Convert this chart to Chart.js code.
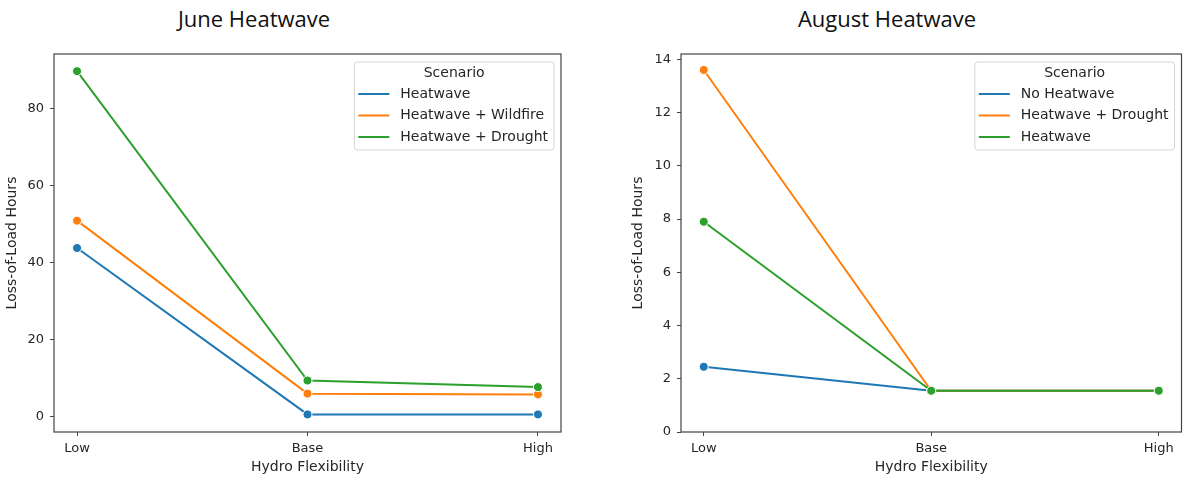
<!DOCTYPE html>
<html>
<head>
<meta charset="utf-8">
<script src="https://cdn.jsdelivr.net/npm/chart.js@4.4.1/dist/chart.umd.min.js"></script>
<style>
  html, body { margin: 0; padding: 0; background: #fff; }
  #wrap { position: relative; width: 1187px; height: 483px; overflow: hidden; }
  canvas { position: absolute; top: 0; }
  .title { position: absolute; font-family: 'Open Sans', sans-serif; font-size: 22px; color: #111; transform: translateX(-50%); white-space: nowrap; line-height: 1; }
</style>
</head>
<body>
<div id="wrap">
  <div class="title" style="left:254px; top:7px">June Heatwave</div>
  <div class="title" style="left:887px; top:7px">August Heatwave</div>
  <canvas id="juneChart" width="600" height="483" style="left:0"></canvas>
  <canvas id="augChart" width="587" height="483" style="left:600px"></canvas>
</div>
<script>
const categories = ['Low', 'Base', 'High'];

// June panel
const juneLabels = ['Heatwave', 'Heatwave + Wildfire', 'Heatwave + Drought'];
const juneHeatwave = [43.7, 0.5, 0.5];
const juneWildfire = [50.8, 5.9, 5.7];
const juneDrought = [89.6, 9.3, 7.6];
const juneTicks = [0, 20, 40, 60, 80];

// August panel
const augLabels = ['No Heatwave', 'Heatwave + Drought', 'Heatwave'];
const augNoHeatwave = [2.45, 1.55, 1.55];
const augDrought = [13.6, 1.55, 1.55];
const augHeatwave = [7.9, 1.55, 1.55];
const augTicks = [0, 2, 4, 6, 8, 10, 12, 14];

const colors = ['#1f77b4', '#ff7f0e', '#2ca02c'];
const textColor = '#262626';
const axisColor = '#444';
const tickFont = { family: 'DejaVu Sans', size: 13 };
const labelFont = { family: 'DejaVu Sans', size: 14 };

function makeDatasets(labels, series) {
    return series.map((values, i) => ({
        label: labels[i],
        data: values.map((v, j) => ({ x: j, y: v })),
        borderColor: colors[i],
        backgroundColor: colors[i],
        pointBackgroundColor: colors[i],
        pointBorderColor: '#fff',
        pointBorderWidth: 1,
        pointRadius: 4.5,
        borderWidth: 2,
        tension: 0,
        order: series.length - i   // later series on top, like matplotlib
    }));
}

// axes box on all four sides
const framePlugin = {
    id: 'frame',
    afterDatasetsDraw(chart) {
        const { ctx, chartArea: a } = chart;
        ctx.save();
        ctx.strokeStyle = axisColor;
        ctx.lineWidth = 1.2;
        ctx.strokeRect(a.left, a.top, a.right - a.left, a.bottom - a.top);
        ctx.restore();
    }
};

// matplotlib style legend box with a title, upper right inside the plot
const boxLegend = {
    id: 'boxLegend',
    afterDraw(chart) {
        const { ctx, chartArea: a } = chart;
        const items = chart.data.datasets;
        ctx.save();
        ctx.font = '14px "DejaVu Sans"';
        const textW = Math.max(...items.map(d => ctx.measureText(d.label).width));
        const w = 4 + 31 + 11 + textW + 6;
        const h = 88;
        const x = a.right - 7 - w;
        const y = a.top + 8;

        ctx.beginPath();
        ctx.roundRect(x, y, w, h, 3);
        ctx.fillStyle = 'rgba(255,255,255,0.8)';
        ctx.fill();
        ctx.strokeStyle = '#d4d4d4';
        ctx.lineWidth = 1;
        ctx.stroke();

        ctx.fillStyle = textColor;
        ctx.textBaseline = 'middle';
        ctx.textAlign = 'center';
        ctx.fillText('Scenario', x + w / 2, y + 11);

        ctx.textAlign = 'left';
        items.forEach((d, i) => {
            const yy = y + 32 + i * 21.5;
            ctx.strokeStyle = d.borderColor;
            ctx.lineWidth = 2;
            ctx.beginPath();
            ctx.moveTo(x + 4, yy);
            ctx.lineTo(x + 35, yy);
            ctx.stroke();
            ctx.fillStyle = textColor;
            ctx.fillText(d.label, x + 46, yy);
        });
        ctx.restore();
    }
};

function makeChart(id, labels, series, yMin, yMax, yTicks, padLeft, padRight, yWidth) {
    return new Chart(document.getElementById(id), {
        type: 'line',
        data: { datasets: makeDatasets(labels, series) },
        options: {
            responsive: false,
            animation: false,
            devicePixelRatio: 1,
            layout: { padding: { top: 54, right: padRight, bottom: 0, left: padLeft } },
            plugins: {
                legend: { display: false },
                tooltip: { enabled: false }
            },
            scales: {
                x: {
                    type: 'linear',
                    min: -0.1,
                    max: 2.1,
                    afterBuildTicks: s => { s.ticks = categories.map((c, i) => ({ value: i })); },
                    ticks: {
                        callback: v => categories[v],
                        font: tickFont,
                        color: textColor,
                        padding: 5,
                        maxRotation: 0,
                        autoSkip: false
                    },
                    grid: { drawOnChartArea: false, drawTicks: true, tickLength: 4, tickColor: axisColor, tickWidth: 1 },
                    border: { display: false },
                    title: { display: true, text: 'Hydro Flexibility', font: labelFont, color: textColor, padding: { top: 0, bottom: 7 } },
                    afterFit: s => { s.height = 51; }
                },
                y: {
                    type: 'linear',
                    min: yMin,
                    max: yMax,
                    afterBuildTicks: s => { s.ticks = yTicks.map(v => ({ value: v })); },
                    ticks: { font: tickFont, color: textColor, padding: 6 },
                    grid: { drawOnChartArea: false, drawTicks: true, tickLength: 4, tickColor: axisColor, tickWidth: 1 },
                    border: { display: false },
                    title: { display: true, text: 'Loss-of-Load Hours', font: labelFont, color: textColor, padding: { top: 4, bottom: 0 } },
                    afterFit: s => { s.width = yWidth; }
                }
            }
        },
        plugins: [framePlugin, boxLegend]
    });
}

makeChart('juneChart', juneLabels, [juneHeatwave, juneWildfire, juneDrought], -4.06, 94.06, juneTicks, 0, 39, 54);
makeChart('augChart', augLabels, [augNoHeatwave, augDrought, augHeatwave], 0, 14.2, augTicks, 26, 1, 55);
</script>
</body>
</html>
